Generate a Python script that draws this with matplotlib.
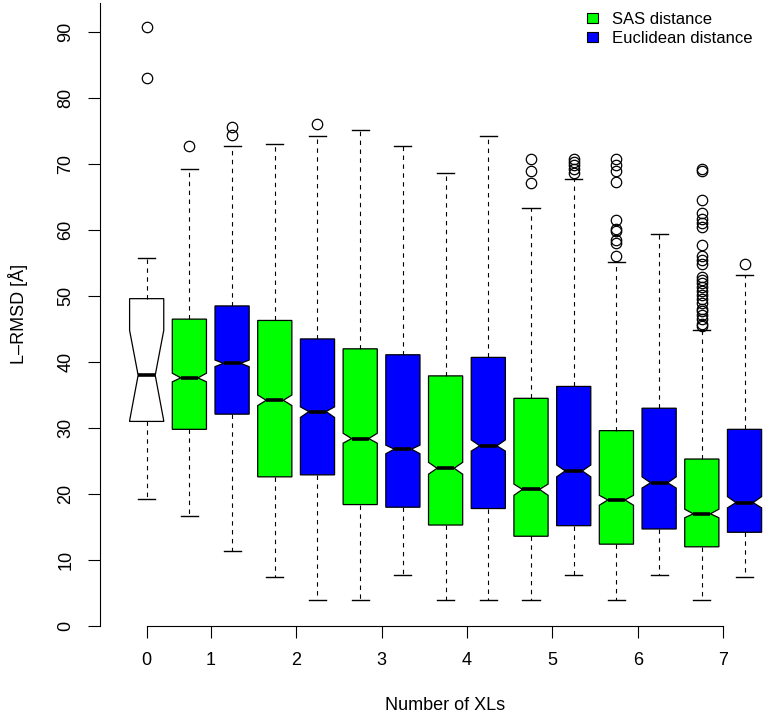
import numpy as np
import matplotlib
matplotlib.use("Agg")
from matplotlib import pyplot as plt
from matplotlib.patches import Patch

# number of XLs per box (0 = no XLs, then SAS / Euclidean pairs)
groups = [0, 1, 1, 2, 2, 3, 3, 4, 4, 5, 5, 6, 6, 7, 7]
kinds = ["none"] + ["SAS", "Euclidean"] * 7

q1 = [31.0, 29.8, 32.1, 22.6, 22.9, 18.4, 18.0, 15.3, 17.8, 13.6, 15.2, 12.4, 14.7, 12.0, 14.2]
med = [38.0, 37.6, 39.8, 34.2, 32.5, 28.4, 26.8, 23.9, 27.3, 20.7, 23.5, 19.1, 21.7, 17.0, 18.7]
q3 = [49.6, 46.5, 48.5, 46.3, 43.5, 42.0, 41.1, 37.9, 40.7, 34.5, 36.3, 29.6, 33.0, 25.3, 29.8]
cilo = [31.1, 37.0, 39.3, 33.4, 31.6, 27.7, 26.1, 23.0, 26.5, 19.8, 22.6, 18.3, 20.9, 16.4, 17.9]
cihi = [44.8, 38.3, 40.3, 35.0, 33.2, 29.2, 27.4, 24.8, 28.2, 21.5, 24.4, 19.8, 22.6, 17.7, 19.6]
whislo = [19.2, 16.7, 11.4, 7.4, 3.9, 3.9, 7.7, 3.9, 3.9, 3.9, 7.7, 3.9, 7.7, 3.9, 7.5]
whishi = [55.8, 69.3, 72.7, 73.0, 74.2, 75.2, 72.7, 68.7, 74.2, 63.3, 67.8, 55.2, 59.4, 44.8, 53.2]
outliers = [
  [90.8, 83.1],
  [72.7],
  [74.4, 75.6],
  [],
  [76.0],
  [],
  [],
  [],
  [],
  [67.2, 69.0, 70.8],
  [68.7, 69.3, 69.8, 70.3, 70.8],
  [56.1, 58.1, 58.5, 59.8, 60.2, 61.5, 67.3, 68.9, 69.8, 70.8],
  [],
  [45.4, 45.8, 46.5, 47.2, 47.7, 48.1, 48.9, 49.5, 50.1, 50.7, 51.4, 51.9,
   52.5, 52.9, 54.9, 55.4, 56.1, 57.8, 60.5, 61.1, 61.7, 62.6, 64.6, 68.9, 69.3],
  [54.9],
]

xl_ticks = [0, 1, 2, 3, 4, 5, 6, 7]
fill = {"none": "white", "SAS": "#00FF00", "Euclidean": "#0000FF"}

plt.rcParams["font.family"] = ["Liberation Sans", "DejaVu Sans"]

W, H = 767, 720
fig = plt.figure(figsize=(W / 100.0, H / 100.0), dpi=100)
ax = fig.add_axes([99.7 / W, 94.0 / H, 691.8 / W, 623.0 / H])

stats = []
for i in range(len(med)):
  stats.append(dict(med=med[i], q1=q1[i], q3=q3[i], cilo=cilo[i], cihi=cihi[i],
                    whislo=whislo[i], whishi=whishi[i], fliers=outliers[i]))

pos = np.arange(1, len(med) + 1)
bp = ax.bxp(stats, positions=pos, widths=0.8, shownotches=True, patch_artist=True,
            boxprops=dict(edgecolor="black", linewidth=0.9),
            medianprops=dict(color="black", linewidth=2.6, solid_capstyle="butt"),
            whiskerprops=dict(color="black", linewidth=0.8, linestyle=(0, (4, 4))),
            capprops=dict(color="black", linewidth=1.0),
            flierprops=dict(marker="o", markerfacecolor="none", markeredgecolor="black",
                            markersize=7.5, markeredgewidth=0.9))
for box, k in zip(bp["boxes"], kinds):
  box.set_facecolor(fill[k])

# x ticks sit under box 0 and between each SAS / Euclidean pair
tick_pos = []
for g in xl_ticks:
  p = [pp for pp, gg in zip(pos, groups) if gg == g]
  tick_pos.append(np.mean(p))

ax.set_xlim(-0.1, 16.1)
ax.set_ylim(0, 94.4)
ax.set_xticks(tick_pos)
ax.set_xticklabels([str(t) for t in xl_ticks])
ax.set_yticks(np.arange(0, 91, 10))
ax.set_yticklabels([str(v) for v in range(0, 91, 10)], rotation=90, va="center")
ax.tick_params(axis="both", labelsize=13, length=8.6, width=0.8, direction="out")
ax.tick_params(axis="x", pad=10)
ax.tick_params(axis="y", pad=9.5)

for s in ["top", "right"]:
  ax.spines[s].set_visible(False)
ax.spines["bottom"].set_bounds(tick_pos[0], tick_pos[-1])
ax.spines["left"].set_linewidth(0.8)
ax.spines["bottom"].set_linewidth(0.8)

fig.text(445.0 / W, 1 - 706.0 / H, "Number of XLs", fontsize=13, ha="center", va="center")
fig.text(18.0 / W, 1 - 314.0 / H, "L\u2013RMSD [\u00c5]", fontsize=13, ha="center",
         va="center", rotation=90)

handles = [Patch(facecolor=fill["SAS"], edgecolor="black", linewidth=0.8),
           Patch(facecolor=fill["Euclidean"], edgecolor="black", linewidth=0.8)]
fig.legend(handles, ["SAS distance", "Euclidean distance"], loc="upper left",
           bbox_to_anchor=(587.0 / W, 1 - 12.0 / H), frameon=False, fontsize=12,
           handlelength=0.68, handleheight=0.55, handletextpad=0.85,
           labelspacing=0.25, borderpad=0, borderaxespad=0)

fig.savefig("out.png", dpi=100)
